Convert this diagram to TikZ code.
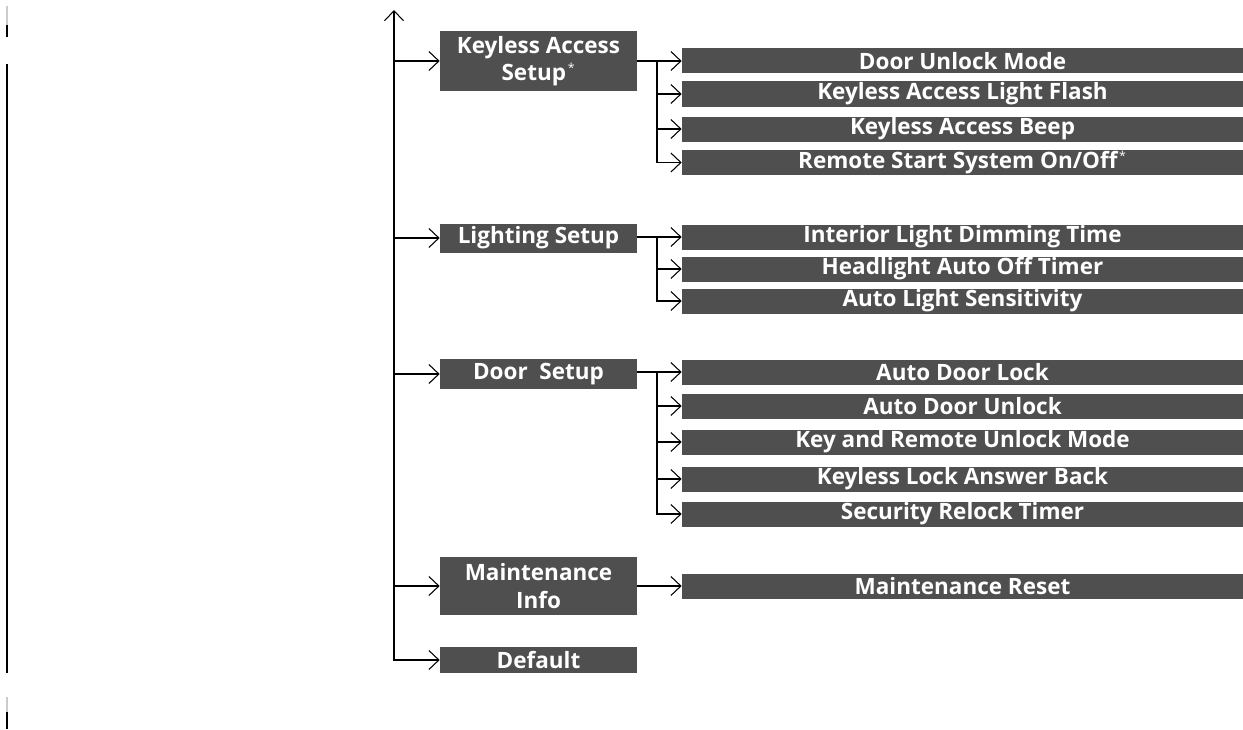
\documentclass[tikz,border=0pt]{standalone}
\usepackage{fontspec}
\setmainfont{Open Sans}
\usepackage{tikz}
\usetikzlibrary{arrows.meta}

\definecolor{boxgray}{HTML}{4F4F4F}
\newcommand{\optmark}{\textsuperscript{\kern1pt\normalfont\scriptsize*}}

\begin{document}
\begin{tikzpicture}[
    font=\fontsize{12.8}{15.6}\selectfont\bfseries,
    >={Straight Barb[length=2mm,width=3.8mm,line width=0.6pt]},
    grp/.style={fill=boxgray, text=white, align=center, inner sep=0pt,
                minimum width=3.94cm},
    itm/.style={fill=boxgray, text=white, align=center, inner sep=0pt,
                minimum width=11.22cm, minimum height=5mm},
    sig/.style={->, line width=1.1pt},
    edgemark/.style={line width=1.1pt},
  ]
  \useasboundingbox (0,0) rectangle (24.86,-14.58);

  %% ---- page marks (left edge) ------------------------------------
  \draw[edgemark, black!20] (0.14,-0.12) -- (0.14,-0.50);
  \draw[edgemark]           (0.14,-0.50) -- (0.14,-0.74);
  \draw[edgemark]           (0.14,-1.28) -- (0.14,-13.46);
  \draw[edgemark, black!20] (0.14,-13.94) -- (0.14,-14.24);
  \draw[edgemark]           (0.14,-14.24) -- (0.14,-14.58);

  %% ---- first level -----------------------------------------------
  \coordinate (top) at (7.88,-0.2);
  \node[grp, minimum height=1.2cm]  (KA)  at (10.77,-1.22)
    {Keyless Access\\Setup\optmark};
  \node[grp, minimum height=5.8mm]  (LS)  at (10.77,-4.76) {Lighting Setup};
  \node[grp, minimum height=6mm]    (DS)  at (10.77,-7.48) {Door\ \ Setup};
  \node[grp, minimum height=1.16cm] (MI)  at (10.77,-11.72) {Maintenance\\Info};
  \node[grp, minimum height=5.2mm]  (DF)  at (10.77,-13.2) {Default};

  \draw[sig,<->] (top) |- (DF.west);
  \draw[sig] (top |- KA.west) -- (KA.west);
  \draw[sig] (top |- LS.west) -- (LS.west);
  \draw[sig] (top |- DS.west) -- (DS.west);
  \draw[sig] (top |- MI.west) -- (MI.west);

  %% ---- keyless access items ----------------------------------------
  \node[itm] (DUM) at (19.25,-1.22) {Door Unlock Mode};
  \node[itm] (KLF) at (19.25,-1.88) {Keyless Access Light Flash};
  \node[itm] (KAB) at (19.25,-2.58) {Keyless Access Beep};
  \node[itm] (RSS) at (19.25,-3.25) {Remote Start System On/Off\optmark};

  \coordinate (b1) at (13.14,-1.22);
  \draw[sig] (KA.east |- DUM.west) -- (DUM.west);
  \draw[sig] (b1) |- (RSS.west);
  \draw[sig] (b1 |- KLF.west) -- (KLF.west);
  \draw[sig] (b1 |- KAB.west) -- (KAB.west);

  %% ---- lighting items ----------------------------------------------
  \node[itm] (ILD) at (19.25,-4.74) {Interior Light Dimming Time};
  \node[itm] (HAO) at (19.25,-5.38) {Headlight Auto Off Timer};
  \node[itm] (ALS) at (19.25,-6.02) {Auto Light Sensitivity};

  \coordinate (b2) at (13.14,-4.74);
  \draw[sig] (LS.east |- ILD.west) -- (ILD.west);
  \draw[sig] (b2) |- (ALS.west);
  \draw[sig] (b2 |- HAO.west) -- (HAO.west);

  %% ---- door items ----------------------------------------------------
  \node[itm] (ADL) at (19.25,-7.44) {Auto Door Lock};
  \node[itm] (ADU) at (19.25,-8.12) {Auto Door Unlock};
  \node[itm] (KRU) at (19.25,-8.84) {Key and Remote Unlock Mode};
  \node[itm] (KLA) at (19.25,-9.58) {Keyless Lock Answer Back};
  \node[itm] (SRT) at (19.25,-10.28) {Security Relock Timer};

  \coordinate (b3) at (13.14,-7.44);
  \draw[sig] (DS.east |- ADL.west) -- (ADL.west);
  \draw[sig] (b3) |- (SRT.west);
  \draw[sig] (b3 |- ADU.west) -- (ADU.west);
  \draw[sig] (b3 |- KRU.west) -- (KRU.west);
  \draw[sig] (b3 |- KLA.west) -- (KLA.west);

  %% ---- maintenance ---------------------------------------------------
  \node[itm] (MR) at (19.25,-11.72) {Maintenance Reset};
  \draw[sig] (MI.east) -- (MR.west);

\end{tikzpicture}
\end{document}
